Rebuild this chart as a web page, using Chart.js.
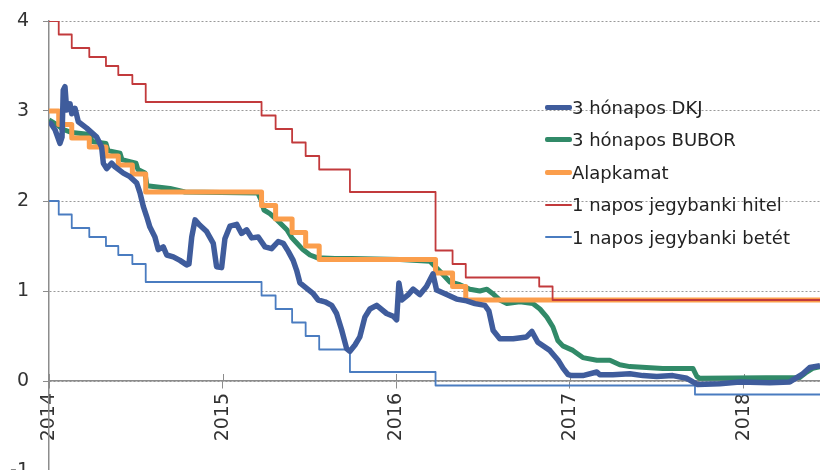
<!DOCTYPE html>
<html>
<head>
<meta charset="utf-8">
<script src="https://cdn.jsdelivr.net/npm/chart.js@4"></script>
<style>
  html, body { margin: 0; padding: 0; background: #fff; overflow: hidden; }
  #wrap { position: relative; width: 820px; height: 490px; }
  #legend { position: absolute; left: 545px; top: 91px; font-family: "DejaVu Sans", sans-serif; font-size: 18px; color: #222; }
  .item { display: flex; align-items: center; height: 32.5px; white-space: nowrap; }
  .swatch { width: 27px; }
</style>
</head>
<body>
<div id="wrap">
  <canvas id="rateChart" width="820" height="490"></canvas>
  <div id="legend"></div>
</div>
<script>
// series names, in legend order
const seriesNames = ["3 hónapos DKJ", "3 hónapos BUBOR", "Alapkamat", "1 napos jegybanki hitel", "1 napos jegybanki betét"];

// 3 month T-bill yield (decimal years)
const dkjDates = [2014.000, 2014.012, 2014.035, 2014.052, 2014.063, 2014.075, 2014.082, 2014.092, 2014.102, 2014.109,
  2014.121, 2014.131, 2014.150, 2014.169, 2014.217, 2014.275, 2014.303, 2014.313, 2014.332, 2014.361,
  2014.380, 2014.428, 2014.466, 2014.505, 2014.524, 2014.543, 2014.562, 2014.581, 2014.610, 2014.629,
  2014.658, 2014.678, 2014.716, 2014.754, 2014.793, 2014.806, 2014.822, 2014.841, 2014.869, 2014.908,
  2014.946, 2014.965, 2014.994, 2015.013, 2015.042, 2015.081, 2015.109, 2015.138, 2015.167, 2015.205,
  2015.244, 2015.282, 2015.320, 2015.349, 2015.378, 2015.406, 2015.426, 2015.445, 2015.484, 2015.522,
  2015.550, 2015.589, 2015.628, 2015.656, 2015.685, 2015.714, 2015.733, 2015.762, 2015.790, 2015.819,
  2015.848, 2015.887, 2015.944, 2015.982, 2016.002, 2016.015, 2016.032, 2016.069, 2016.097, 2016.136,
  2016.174, 2016.211, 2016.232, 2016.290, 2016.347, 2016.405, 2016.453, 2016.510, 2016.533, 2016.558,
  2016.596, 2016.673, 2016.750, 2016.781, 2016.815, 2016.884, 2016.932, 2016.961, 2016.990, 2017.011,
  2017.074, 2017.155, 2017.172, 2017.247, 2017.345, 2017.420, 2017.500, 2017.592, 2017.673, 2017.708,
  2017.736, 2017.863, 2017.978, 2018.151, 2018.266, 2018.341, 2018.381, 2018.440];
const dkjValues = [2.87, 2.86, 2.79, 2.70, 2.64, 2.71, 3.23, 3.27, 3.01, 3.05,
  3.08, 2.97, 3.03, 2.88, 2.81, 2.71, 2.60, 2.42, 2.36, 2.42,
  2.38, 2.31, 2.27, 2.20, 2.09, 1.94, 1.83, 1.71, 1.60, 1.46,
  1.49, 1.40, 1.38, 1.34, 1.29, 1.30, 1.60, 1.79, 1.73, 1.66,
  1.53, 1.27, 1.26, 1.58, 1.72, 1.74, 1.64, 1.68, 1.59, 1.60,
  1.49, 1.47, 1.55, 1.53, 1.44, 1.34, 1.23, 1.09, 1.03, 0.97,
  0.90, 0.88, 0.84, 0.75, 0.57, 0.36, 0.33, 0.40, 0.49, 0.71,
  0.80, 0.84, 0.75, 0.72, 0.68, 1.09, 0.90, 0.96, 1.02, 0.96,
  1.05, 1.19, 1.01, 0.96, 0.91, 0.89, 0.86, 0.84, 0.78, 0.56,
  0.47, 0.47, 0.49, 0.55, 0.43, 0.34, 0.23, 0.14, 0.07, 0.06,
  0.06, 0.10, 0.07, 0.07, 0.08, 0.06, 0.05, 0.06, 0.03, -0.01,
  -0.04, -0.03, -0.01, -0.02, -0.01, 0.08, 0.15, 0.17];

// 3 month BUBOR
const buborDates = [2014.000, 2014.052, 2014.075, 2014.132, 2014.236, 2014.248, 2014.328, 2014.340, 2014.409, 2014.420,
  2014.501, 2014.512, 2014.553, 2014.564, 2014.697, 2014.783, 2015.203, 2015.221, 2015.238, 2015.272,
  2015.313, 2015.370, 2015.399, 2015.428, 2015.462, 2015.503, 2015.543, 2015.647, 2015.744, 2016.021,
  2016.193, 2016.251, 2016.309, 2016.366, 2016.424, 2016.481, 2016.522, 2016.556, 2016.596, 2016.637,
  2016.712, 2016.786, 2016.827, 2016.867, 2016.902, 2016.930, 2016.959, 2017.017, 2017.074, 2017.155,
  2017.230, 2017.287, 2017.345, 2017.535, 2017.708, 2017.731, 2017.748, 2018.323, 2018.364, 2018.398, 2018.440];
const buborValues = [2.90, 2.84, 2.80, 2.76, 2.74, 2.66, 2.64, 2.56, 2.53, 2.46,
  2.42, 2.35, 2.31, 2.17, 2.14, 2.10, 2.09, 2.01, 1.90, 1.86,
  1.79, 1.68, 1.59, 1.53, 1.46, 1.40, 1.37, 1.36, 1.36, 1.35,
  1.33, 1.22, 1.10, 1.07, 1.02, 1.00, 1.02, 0.97, 0.90, 0.86,
  0.88, 0.86, 0.80, 0.71, 0.60, 0.45, 0.39, 0.34, 0.26, 0.23,
  0.23, 0.18, 0.16, 0.14, 0.14, 0.05, 0.03, 0.04, 0.10, 0.14, 0.16];

// base rate and overnight corridor, value valid from the given date
const baseDates = [2014.000, 2014.056, 2014.131, 2014.232, 2014.328, 2014.399, 2014.480, 2014.557,
  2015.224, 2015.305, 2015.400, 2015.478, 2015.556, 2016.226, 2016.324, 2016.400, 2018.440];
const baseValues = [3.00, 2.85, 2.70, 2.60, 2.50, 2.40, 2.30, 2.10,
  1.95, 1.80, 1.65, 1.50, 1.35, 1.20, 1.05, 0.90, 0.90];

const lendingDates = [2014.000, 2014.056, 2014.131, 2014.232, 2014.328, 2014.399, 2014.480, 2014.557,
  2015.224, 2015.305, 2015.400, 2015.478, 2015.556, 2015.733, 2016.226, 2016.324, 2016.400, 2016.823, 2016.900, 2018.440];
const lendingValues = [4.00, 3.85, 3.70, 3.60, 3.50, 3.40, 3.30, 3.10,
  2.95, 2.80, 2.65, 2.50, 2.35, 2.10, 1.45, 1.30, 1.15, 1.05, 0.90, 0.90];

const depositDates = [2014.000, 2014.056, 2014.131, 2014.232, 2014.328, 2014.399, 2014.480, 2014.557,
  2015.224, 2015.305, 2015.400, 2015.478, 2015.556, 2015.733, 2016.226, 2017.720, 2018.440];
const depositValues = [2.00, 1.85, 1.70, 1.60, 1.50, 1.40, 1.30, 1.10,
  0.95, 0.80, 0.65, 0.50, 0.35, 0.10, -0.05, -0.15, -0.15];

const colors = ["#3f5c9c", "#318a68", "#fb9e4c", "#c23a3c", "#4a7cc0"];
const widths = [5.5, 5, 5, 1.8, 1.8];

function toPoints(xs, ys) {
  return xs.map((x, i) => ({ x: x, y: ys[i] }));
}

// draws the little part of the year ticks that sits above the zero line
const tickMarksAbove = {
  id: "tickMarksAbove",
  beforeDatasetsDraw(chart) {
    const xs = chart.scales.x;
    const y0 = chart.scales.y.getPixelForValue(0);
    const ctx = chart.ctx;
    ctx.save();
    ctx.strokeStyle = "#8c8c8c";
    ctx.lineWidth = 1;
    xs.ticks.forEach(t => {
      const px = Math.round(xs.getPixelForValue(t.value)) + 0.5;
      ctx.beginPath();
      ctx.moveTo(px, y0 - 7);
      ctx.lineTo(px, y0);
      ctx.stroke();
    });
    ctx.restore();
  }
};

const series = [
  { data: toPoints(dkjDates, dkjValues), stepped: false, order: 0 },
  { data: toPoints(buborDates, buborValues), stepped: false, order: 4 },
  { data: toPoints(baseDates, baseValues), stepped: true, order: 3 },
  { data: toPoints(lendingDates, lendingValues), stepped: true, order: 1 },
  { data: toPoints(depositDates, depositValues), stepped: true, order: 2 }
];

new Chart(document.querySelector("#rateChart"), {
  type: "line",
  data: {
    datasets: series.map((s, i) => ({
      label: seriesNames[i],
      data: s.data,
      stepped: s.stepped,
      order: s.order,
      borderColor: colors[i],
      borderWidth: widths[i],
      pointRadius: 0,
      tension: 0,
      fill: false,
      borderJoinStyle: "round"
    }))
  },
  options: {
    responsive: false,
    animation: false,
    layout: { padding: { top: 21, right: 0, bottom: 19, left: 0 } },
    plugins: { legend: { display: false }, tooltip: { enabled: false } },
    scales: {
      x: {
        type: "linear",
        position: { y: 0 },
        min: 2014,
        max: 2018.44,
        grid: { drawOnChartArea: false, drawTicks: true, tickLength: 7, color: "#8c8c8c" },
        border: { color: "#8c8c8c", width: 1.5 },
        ticks: {
          stepSize: 1,
          includeBounds: false,
          minRotation: 90,
          maxRotation: 90,
          padding: 5,
          color: "#333",
          font: { family: "DejaVu Sans", size: 19 },
          callback: v => String(v)
        }
      },
      y: {
        type: "linear",
        min: -1,
        max: 4,
        afterFit: s => {
          s.width = 49;
          // let the chart area run right up to the outer padding
          s.paddingTop = 0;
          s.paddingBottom = 0;
        },
        grid: {
          display: true,
          drawOnChartArea: true,
          color: "#999",
          lineWidth: 1,
          tickLength: 6,
          tickColor: "#8c8c8c"
        },
        border: { display: true, color: "#8c8c8c", width: 1.5, dash: [2, 2] },
        ticks: {
          stepSize: 1,
          padding: 14,
          color: "#333",
          font: { family: "DejaVu Sans", size: 19 }
        }
      }
    }
  },
  plugins: [tickMarksAbove]
});

// legend, built from the same names and colours
const legendBox = document.querySelector("#legend");
seriesNames.forEach((name, i) => {
  const item = document.createElement("div");
  item.className = "item";
  const sw = document.createElement("div");
  sw.className = "swatch";
  sw.style.height = widths[i] > 3 ? "5px" : "2px";
  sw.style.background = colors[i];
  sw.style.borderRadius = "2px";
  const label = document.createElement("span");
  label.textContent = name;
  item.appendChild(sw);
  item.appendChild(label);
  legendBox.appendChild(item);
});
</script>
</body>
</html>
